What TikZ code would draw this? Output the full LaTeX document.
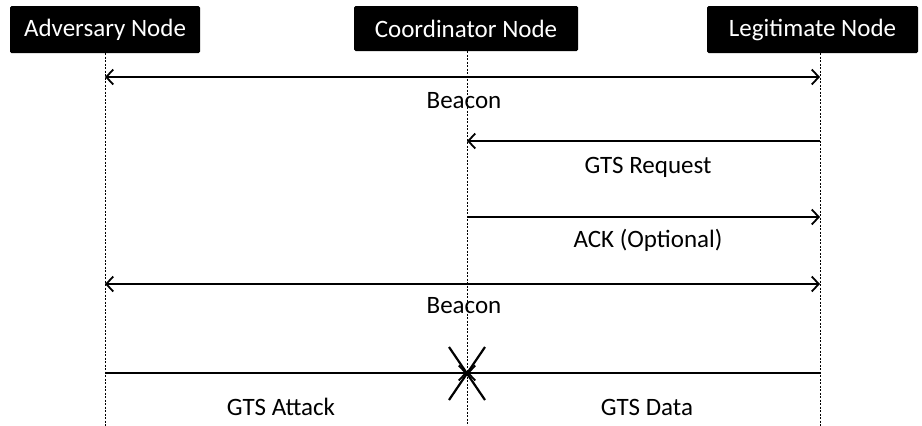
\documentclass[tikz,border=0pt]{standalone}
\usepackage{fontspec}
\setmainfont{Carlito}
\usetikzlibrary{arrows.meta}
\begin{document}
\begin{tikzpicture}[x=1pt,y=-1pt,
  actor/.style={fill=black,text=white,rounded corners=1.5pt,inner sep=0pt,font=\fontsize{25}{29}\selectfont},
  lifeline/.style={line width=0.9pt,dash pattern=on 2pt off 1.5pt},
  msg/.style={line width=2.2pt,-{Straight Barb[length=7pt,width=15pt,line width=1.8pt]}},
  bimsg/.style={line width=2.2pt,{Straight Barb[length=7pt,width=15pt,line width=1.8pt]}-{Straight Barb[length=7pt,width=15pt,line width=1.8pt]}},
  plain/.style={line width=2.2pt},
  lbl/.style={font=\fontsize{25}{29}\selectfont,inner sep=0pt}]
\useasboundingbox[fill=white] (0,0) rectangle (922,426);

% participants
\node[actor,minimum width=190pt,minimum height=47pt] (adv) at (105,29.5) {Adversary Node};
\node[actor,minimum width=224pt,minimum height=45pt] (coord) at (466,28.5) {Coordinator Node};
\node[actor,minimum width=211pt,minimum height=47pt] (legit) at (812.5,29.5) {Legitimate Node};

% lifelines
\coordinate (advL) at (105,53);
\coordinate (coordL) at (467,51);
\coordinate (legitL) at (820,53);
\coordinate (advE) at (105,426);
\coordinate (coordE) at (467,426);
\coordinate (legitE) at (820,426);
\draw[lifeline] (advL) -- (advE);
\draw[lifeline] (coordL) -- (coordE);
\draw[lifeline] (legitL) -- (legitE);

% message end points
\coordinate (b1a) at (105,77);  \coordinate (b1l) at (820,77);
\coordinate (rqc) at (467,141); \coordinate (rql) at (820,141);
\coordinate (akc) at (467,217); \coordinate (akl) at (820,217);
\coordinate (b2a) at (105,284); \coordinate (b2l) at (820,284);
\coordinate (ata) at (105,373); \coordinate (atc) at (467,373); \coordinate (atl) at (820,373);

% messages
\draw[bimsg] (b1a) -- (b1l);
\node[lbl] (beacon1) at (464,101) {Beacon};
\draw[msg] (rql) -- (rqc);
\node[lbl] (req) at (648,167) {GTS Request};
\draw[msg] (akc) -- (akl);
\node[lbl] (ack) at (648,240) {ACK (Optional)};
\draw[bimsg] (b2a) -- (b2l);
\node[lbl] (beacon2) at (464,306) {Beacon};
\draw[msg] (ata) -- (atc);
\draw[msg] (atl) -- (atc);
\node[lbl] (attack) at (281,407) {GTS Attack};
\node[lbl] (data) at (647,407) {GTS Data};

% collision mark
\coordinate (x1) at (449,347); \coordinate (x2) at (485,400);
\coordinate (x3) at (485,347); \coordinate (x4) at (449,400);
\draw[plain] (x1) -- (x2);
\draw[plain] (x3) -- (x4);
\end{tikzpicture}
\end{document}
